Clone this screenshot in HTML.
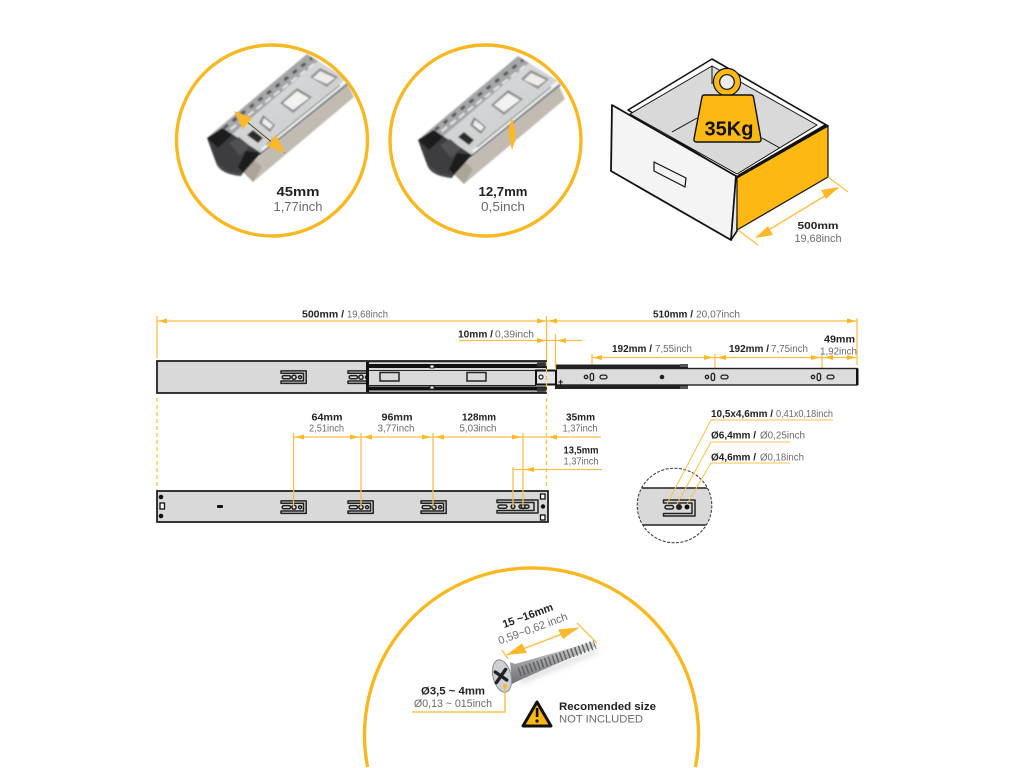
<!DOCTYPE html>
<html>
<head>
<meta charset="utf-8">
<style>
html,body{margin:0;padding:0;background:#fff;width:1024px;height:768px;overflow:hidden}
svg{display:block}
text{font-family:"Liberation Sans",sans-serif;font-size:10px;fill:#6a6a6a}
.b{font-weight:bold;fill:#222}
.d{stroke:#fac04a;stroke-width:1.3;fill:none}
.a{fill:#fbb829}
.r{fill:#d9d9d9;stroke:#222;stroke-width:1.8}
</style>
</head>
<body>
<svg width="1024" height="768" viewBox="0 0 1024 768" xmlns="http://www.w3.org/2000/svg">
<defs>
<clipPath id="c1"><circle cx="272" cy="140.5" r="95.5"/></clipPath>
<clipPath id="c2"><circle cx="485.5" cy="140.5" r="95.5"/></clipPath>
<clipPath id="c3"><circle cx="674.5" cy="505.5" r="37"/></clipPath>
<filter id="bl" x="-5%" y="-5%" width="110%" height="110%"><feGaussianBlur stdDeviation="0.7"/></filter>
<filter id="bt" x="-5%" y="-20%" width="110%" height="140%"><feGaussianBlur stdDeviation="0.35"/></filter>
<filter id="bs" x="-20%" y="-50%" width="140%" height="200%"><feGaussianBlur stdDeviation="3"/></filter>
<linearGradient id="sv" x1="0" y1="0" x2="1" y2="1">
<stop offset="0" stop-color="#b4b6b8"/><stop offset=".35" stop-color="#d6d7d8"/><stop offset=".75" stop-color="#cdcecf"/><stop offset="1" stop-color="#aeb0b2"/>
</linearGradient>
<linearGradient id="sc" x1="0" y1="0" x2="0" y2="1">
<stop offset="0" stop-color="#d8d9da"/><stop offset=".5" stop-color="#9b9da0"/><stop offset="1" stop-color="#6e7073"/>
</linearGradient>
<g id="rail">
<polygon points="243,172 260,155 347,82 354,97 253,182" fill="#c1bbb1"/>
<polygon points="243,172 254,160 262,167 253,182" fill="#aaa49a"/>
<polygon points="208,137 307,54 352,82 258,158" fill="url(#sv)"/>
<polygon points="208,137 307,54 318,61 221,144" fill="#a4a6a8"/>
<line x1="224" y1="128" x2="312" y2="58" stroke="#55575a" stroke-width="3" stroke-dasharray="5 6"/>
<line x1="222" y1="136" x2="315" y2="63" stroke="#e6e7e8" stroke-width="2" stroke-dasharray="7 4"/>
<polygon points="280,103 297,88 312,97 293,113" fill="#8c8e90"/>
<polygon points="283,103 297,91 309,98 293,110" fill="#f2f2f0"/>
<polygon points="263,115 275,125 270,132 259,123" fill="#85878a"/>
<polygon points="264,118 273,125 270,129 262,123" fill="#efeeec"/>
<polygon points="310,77 320,68 338,77 327,87" fill="#8f9193"/>
<polygon points="313,78 320,71 335,78 327,84" fill="#eeece9"/>
<polygon points="247,135 253,130 263,138 258,143" fill="#2a2a2b"/>
<line x1="262" y1="150" x2="347" y2="80" stroke="#f5f5f5" stroke-width="3"/>
<line x1="259" y1="155" x2="349" y2="83" stroke="#6a6c6e" stroke-width="1.6"/>
<line x1="266" y1="145" x2="340" y2="85" stroke="#85878a" stroke-width="1.2"/>
<path d="M215 158 Q216 174 241 176 L246 168 Z" fill="#4a4a4c"/>
<polygon points="207,138 223,128 261,153 243,173 228,171 215,160" fill="#3c3d3f"/>
<polygon points="207,138 222,128 232,135 218,148" fill="#1c1c1d"/>
<polygon points="246,151 261,153 243,173 238,167" fill="#1c1c1d"/>
<polygon points="229,143 239,137 250,146 240,156" fill="#505155"/>
</g>
<g id="br" fill="none" stroke="#222" stroke-width="1.5">
<path d="M1 .9 H26.2 V13.4 H1 V11 H23.5 V3.3 H1 Z" stroke-linejoin="round"/>
<rect x="2.2" y="5.6" width="8.4" height="3.2" rx="1.6"/>
<circle cx="14" cy="7.2" r="2.1"/>
<circle cx="20" cy="7.2" r="1.5"/>
</g>
<g id="hl" fill="none" stroke="#222" stroke-width="1.3">
<circle cx="0" cy="0" r="1.7"/>
<rect x="4.2" y="-3.6" width="3.4" height="7.2" rx="1.7"/>
<rect x="14" y="-1.9" width="7" height="3.8" rx="1.9"/>
</g>
</defs>

<!-- Circle 1 -->
<g clip-path="url(#c1)"><use href="#rail" filter="url(#bl)"/></g>
<circle cx="272" cy="140.5" r="95.5" fill="none" stroke="#f7b822" stroke-width="3.4"/>
<line x1="235" y1="112" x2="285" y2="153" stroke="#5a4a20" stroke-width="1"/>
<polygon points="234,111 252,118 243,129" class="a"/>
<polygon points="285,153 267,146 276,135" class="a"/>
<text x="298" y="196" class="b" style="font-size:12.5px" text-anchor="middle" textLength="43" lengthAdjust="spacingAndGlyphs">45mm</text>
<text x="298" y="211" style="font-size:13px" text-anchor="middle" textLength="49" lengthAdjust="spacingAndGlyphs">1,77inch</text>

<!-- Circle 2 -->
<g clip-path="url(#c2)"><use href="#rail" x="211" y="2" filter="url(#bl)"/></g>
<circle cx="485.5" cy="140.5" r="95.5" fill="none" stroke="#f7b822" stroke-width="3.4"/>
<polygon points="512,118 516,134 514,134 516,138 512,150 508,134 510,134 508,130" class="a"/>
<text x="503" y="196" class="b" style="font-size:12.5px" text-anchor="middle" textLength="49" lengthAdjust="spacingAndGlyphs">12,7mm</text>
<text x="503" y="211" style="font-size:13px" text-anchor="middle" textLength="44" lengthAdjust="spacingAndGlyphs">0,5inch</text>

<!-- Drawer -->
<g stroke="#111" stroke-width="1.6" stroke-linejoin="round">
<polygon points="628,110 712,59 828,126 737,178" fill="#fff"/>
<polygon points="630,114 712,66 817,125 737,174" fill="#d9d9d9" stroke-width="1"/>
<line x1="712" y1="66" x2="712" y2="84" stroke-width="1"/>
<line x1="672" y1="132" x2="697" y2="118" stroke-width="1"/>
<line x1="762" y1="138" x2="780" y2="148" stroke-width="1"/>
<polygon points="612,105 736,176 731,240 611,171" fill="#f4f4f4" stroke-width="1.8"/>
<polygon points="736,176 738,177 737,231 731,240" fill="#e8e8e8"/>
<polygon points="737,178 828,126 828,177 737,230" fill="#fdb813" stroke-width="1.2"/>
<line x1="738" y1="176" x2="826" y2="125" stroke-width="2.4"/>
<polygon points="654,162 686,178 685,187 654,171" fill="#f4f4f4" stroke-width="1.2"/>
</g>
<circle cx="727" cy="82" r="10.5" fill="none" stroke="#fdb813" stroke-width="6"/>
<circle cx="727" cy="82" r="13.6" fill="none" stroke="#111" stroke-width="1.2"/>
<circle cx="727" cy="82" r="7.3" fill="#ececec" stroke="#111" stroke-width="1.2"/>
<path d="M704 95 H751 Q753 95 753.5 97 L761 139 Q761.5 142 758 142 H697 Q693.5 142 694 139 L702 97 Q702.5 95 704 95Z" fill="#fdb813" stroke="#111" stroke-width="1.4"/>
<text x="729" y="135.5" class="b" style="font-size:20px;fill:#111" text-anchor="middle" textLength="49" lengthAdjust="spacingAndGlyphs">35Kg</text>
<g class="d">
<line x1="738" y1="230" x2="758" y2="245"/>
<line x1="828" y1="177" x2="848" y2="192"/>
<line x1="757" y1="237" x2="838" y2="188" stroke-width="1.5"/>
</g>
<polygon points="755,238 768,226 773,235" class="a"/>
<polygon points="839,187 826,199 821,190" class="a"/>
<text x="818" y="229" class="b" style="font-size:10.5px" text-anchor="middle" textLength="41" lengthAdjust="spacingAndGlyphs">500mm</text>
<text x="818" y="242" style="font-size:11px" text-anchor="middle" textLength="47" lengthAdjust="spacingAndGlyphs">19,68inch</text>

<!-- Top rail dims -->
<g class="d">
<line x1="157" y1="321" x2="857" y2="321"/>
<line x1="157" y1="316" x2="157" y2="358"/>
<line x1="157" y1="398" x2="157" y2="490" stroke-dasharray="4 3"/>
<line x1="546.5" y1="316" x2="546.5" y2="360"/>
<line x1="546.5" y1="398" x2="546.5" y2="488" stroke-dasharray="4 3"/>
<line x1="857" y1="318" x2="857" y2="365"/>
<line x1="459" y1="340.5" x2="582" y2="340.5"/>
<line x1="555.5" y1="334" x2="555.5" y2="366"/>
<line x1="592" y1="357.5" x2="856" y2="357.5"/>
<line x1="592" y1="354" x2="592" y2="372"/>
<line x1="715" y1="354" x2="715" y2="372"/>
<line x1="822" y1="354" x2="822" y2="372"/>
</g>
<g class="a">
<polygon points="158,321 167,318.5 167,323.5"/>
<polygon points="546,321 537,318.5 537,323.5"/>
<polygon points="548,321 557,318.5 557,323.5"/>
<polygon points="856,321 847,318.5 847,323.5"/>
<polygon points="546,340.5 537,338 537,343"/>
<polygon points="557,340.5 566,338 566,343"/>
<polygon points="593,357.5 602,355 602,360"/>
<polygon points="713,357.5 704,355 704,360"/>
<polygon points="717,357.5 726,355 726,360"/>
<polygon points="820,357.5 811,355 811,360"/>
<polygon points="824,357.5 833,355 833,360"/>
<polygon points="856,357.5 847,355 847,360"/>
</g>
<text x="302" y="317.5" class="b" textLength="42" lengthAdjust="spacingAndGlyphs">500mm /</text>
<text x="347" y="317.5" textLength="41" lengthAdjust="spacingAndGlyphs">19,68inch</text>
<text x="458" y="337.5" class="b" textLength="35" lengthAdjust="spacingAndGlyphs">10mm /</text>
<text x="495" y="337.5" textLength="39" lengthAdjust="spacingAndGlyphs">0,39inch</text>
<text x="653" y="317.5" class="b" textLength="40" lengthAdjust="spacingAndGlyphs">510mm /</text>
<text x="696" y="317.5" textLength="44" lengthAdjust="spacingAndGlyphs">20,07inch</text>
<text x="612" y="352" class="b" textLength="40" lengthAdjust="spacingAndGlyphs">192mm /</text>
<text x="655" y="352" textLength="37" lengthAdjust="spacingAndGlyphs">7,55inch</text>
<text x="729" y="352" class="b" textLength="40" lengthAdjust="spacingAndGlyphs">192mm /</text>
<text x="771" y="352" textLength="37" lengthAdjust="spacingAndGlyphs">7,75inch</text>
<text x="824" y="342.5" class="b" textLength="31" lengthAdjust="spacingAndGlyphs">49mm</text>
<text x="820" y="354.5" textLength="37" lengthAdjust="spacingAndGlyphs">1,92inch</text>

<!-- Top rail -->
<rect x="157" y="361" width="389" height="32" class="r"/>
<use href="#br" x="280" y="370"/>
<use href="#br" x="347" y="370"/>
<!-- inner slide -->
<rect x="555" y="364.5" width="133" height="24.5" fill="#222"/>
<rect x="556" y="368.5" width="301" height="16.5" fill="#dcdcdc" stroke="#222" stroke-width="1.4"/>
<rect x="856" y="368.5" width="2.5" height="16.5" fill="#111"/>
<rect x="680" y="364" width="8" height="3" fill="#555"/><rect x="680" y="386" width="8" height="3" fill="#555"/>
<use href="#hl" x="586" y="377"/>
<use href="#hl" x="707" y="377"/>
<use href="#hl" x="813" y="377"/>
<circle cx="662" cy="377" r="2.3" fill="#222"/>
<text x="558" y="385" class="b" style="font-size:9px;fill:#111">+</text>
<!-- middle section -->
<g>
<rect x="367" y="361.5" width="179" height="31" fill="#d9d9d9"/>
<path d="M367 361.5 H546 M367 392.5 H546" stroke="#222" stroke-width="1.4"/>
<path d="M367 366 H546 M367 388.5 H546" stroke="#111" stroke-width="4"/>
<path d="M367 370.5 H536 M367 385.5 H536" stroke="#222" stroke-width="1"/>
<rect x="366" y="362" width="3" height="30" fill="#111"/>
<rect x="380" y="372.5" width="19" height="8.5" fill="#d9d9d9" stroke="#222" stroke-width="1.5"/>
<rect x="467" y="372.5" width="19" height="8.5" fill="#d9d9d9" stroke="#222" stroke-width="1.5"/>
<rect x="430" y="365" width="4" height="3" fill="#fff" stroke="#222"/>
<rect x="430" y="386" width="4" height="3" fill="#fff" stroke="#222"/>
<rect x="536" y="370.5" width="20" height="14" fill="#e5e5e5" stroke="#111" stroke-width="2"/>
<circle cx="541" cy="377" r="2" fill="#fff" stroke="#222" stroke-width="1.2"/>
<rect x="537" y="362.5" width="9" height="4" fill="#333"/><rect x="537" y="387.5" width="9" height="4" fill="#333"/>
</g>
<g class="d"><line x1="546.5" y1="362" x2="546.5" y2="392" stroke-dasharray="4 3"/><line x1="555.5" y1="362" x2="555.5" y2="370"/></g>

<!-- Bottom rail -->
<rect x="157" y="491" width="391" height="31" class="r"/>
<circle cx="161" cy="497" r="2.3" fill="#111"/>
<circle cx="161" cy="516" r="2.3" fill="#111"/>
<rect x="160" y="503" width="4.5" height="6" fill="#fff" stroke="#111" stroke-width="1.3"/>
<rect x="217" y="505" width="6" height="3" rx="1" fill="#111"/>
<use href="#br" x="280" y="500"/>
<use href="#br" x="347" y="500"/>
<use href="#br" x="420" y="500"/>
<g fill="none" stroke="#222" stroke-width="1.5">
<path d="M497 500 H538 V513 H497 V510.5 H534 V502.5 H497 Z" stroke-linejoin="round"/>
<rect x="498" y="505" width="9" height="3.2" rx="1.6"/>
<rect x="519" y="505" width="10" height="3.2" rx="1.6"/>
<circle cx="513" cy="506.6" r="1.9"/>
<circle cx="523" cy="506.6" r="1.9"/>
</g>
<rect x="540.5" y="494" width="4.5" height="5" fill="#fff" stroke="#111" stroke-width="1.3"/>
<rect x="540.5" y="515" width="4.5" height="5" fill="#fff" stroke="#111" stroke-width="1.3"/>
<circle cx="543" cy="506.5" r="2.2" fill="#111"/>

<!-- Bottom rail dims -->
<g class="d">
<line x1="293.5" y1="433" x2="293.5" y2="507"/>
<line x1="361" y1="433" x2="361" y2="507"/>
<line x1="433" y1="433" x2="433" y2="507"/>
<line x1="523" y1="433" x2="523" y2="507"/>
<line x1="513" y1="467" x2="513" y2="507"/>
<line x1="293.5" y1="437" x2="601" y2="437"/>
<line x1="513" y1="469.5" x2="602" y2="469.5"/>
</g>
<g class="a">
<polygon points="295,437 304,434.5 304,439.5"/>
<polygon points="359,437 350,434.5 350,439.5"/>
<polygon points="363,437 372,434.5 372,439.5"/>
<polygon points="431,437 422,434.5 422,439.5"/>
<polygon points="435,437 444,434.5 444,439.5"/>
<polygon points="521,437 512,434.5 512,439.5"/>
<polygon points="548,437 557,434.5 557,439.5"/>
<polygon points="525,469.5 534,467 534,472"/>
</g>
<g text-anchor="middle">
<text x="327" y="420.5" class="b" textLength="31" lengthAdjust="spacingAndGlyphs">64mm</text>
<text x="326.5" y="431.5" textLength="35" lengthAdjust="spacingAndGlyphs">2,51inch</text>
<text x="397" y="420.5" class="b" textLength="31" lengthAdjust="spacingAndGlyphs">96mm</text>
<text x="396" y="431.5" textLength="37" lengthAdjust="spacingAndGlyphs">3,77inch</text>
<text x="479" y="420.5" class="b" textLength="34" lengthAdjust="spacingAndGlyphs">128mm</text>
<text x="478" y="431.5" textLength="37" lengthAdjust="spacingAndGlyphs">5,03inch</text>
<text x="580.5" y="420.5" class="b" textLength="29" lengthAdjust="spacingAndGlyphs">35mm</text>
<text x="580" y="431.5" textLength="35" lengthAdjust="spacingAndGlyphs">1,37inch</text>
<text x="581" y="453.5" class="b" textLength="35" lengthAdjust="spacingAndGlyphs">13,5mm</text>
<text x="581" y="464.5" textLength="35" lengthAdjust="spacingAndGlyphs">1,37inch</text>
</g>

<!-- Detail circle -->
<g clip-path="url(#c3)">
<rect x="636" y="488" width="78" height="37" fill="#d9d9d9"/>
<line x1="636" y1="488" x2="714" y2="488" stroke="#222" stroke-width="1.5"/>
<line x1="636" y1="525" x2="714" y2="525" stroke="#222" stroke-width="1.5"/>
</g>
<circle cx="674.5" cy="505.5" r="37.3" fill="none" stroke="#333" stroke-width="1" stroke-dasharray="3 1.5"/>
<g fill="none" stroke="#222" stroke-width="1.5">
<path d="M663.5 500 H695 V516 H663.5 V513.5 H692 V503 H663.5 Z" stroke-linejoin="round"/>
<rect x="665" y="505.5" width="8.5" height="3.5" rx="1.7"/>
</g>
<circle cx="679" cy="507" r="3" fill="#222"/>
<circle cx="687" cy="507" r="2.5" fill="#111"/>
<g class="d" style="stroke-width:1">
<polyline points="667,504 711,420 833,420"/>
<polyline points="677,504 711,442 790,442"/>
<polyline points="687,504 711,463 790,463"/>
</g>
<text x="711" y="417" class="b" textLength="62" lengthAdjust="spacingAndGlyphs">10,5x4,6mm /</text>
<text x="776" y="417" textLength="57" lengthAdjust="spacingAndGlyphs">0,41x0,18inch</text>
<text x="711" y="438.5" class="b" textLength="45" lengthAdjust="spacingAndGlyphs">Ø6,4mm /</text>
<text x="760" y="438.5" textLength="45" lengthAdjust="spacingAndGlyphs">Ø0,25inch</text>
<text x="711" y="460.5" class="b" textLength="45" lengthAdjust="spacingAndGlyphs">Ø4,6mm /</text>
<text x="760" y="460.5" textLength="44" lengthAdjust="spacingAndGlyphs">Ø0,18inch</text>

<!-- Large circle -->
<path d="M367.6 767 A167 167 0 1 1 695.4 767" fill="none" stroke="#f7b822" stroke-width="3.4"/>
<!-- Screw -->
<polygon points="520,684 600,652 595,650 520,678" fill="#bbb" opacity=".55" filter="url(#bs)"/>
<polygon points="510,662 515,664 592,642 597,646 520,680 512,684" fill="url(#sc)" filter="url(#bt)"/>
<line x1="519" y1="672" x2="595" y2="644.5" stroke="#5f6164" stroke-width="9" stroke-dasharray="1.5 2.5" filter="url(#bt)"/>
<ellipse cx="502" cy="676" rx="9" ry="16.5" transform="rotate(-14 502 676)" fill="#cfd0d1" stroke="#8a8c8e" stroke-width="1"/>
<g transform="rotate(35 501 676)" stroke="#222" stroke-width="3.4" stroke-linecap="round"><line x1="501" y1="668" x2="501" y2="684"/><line x1="494" y1="676" x2="508" y2="676"/></g>
<g class="d">
<line x1="502" y1="650" x2="508" y2="659"/>
<line x1="577" y1="623" x2="597" y2="643"/>
<line x1="507" y1="655" x2="578" y2="628" stroke-width="1.5"/>
<polyline points="505,687 505,712 412,712" style="stroke:#f9b92a"/>
</g>
<polygon points="506,655 522,643.5 527,653" class="a"/>
<polygon points="579,627.5 563,639 558,629.5" class="a"/>
<circle cx="505" cy="686" r="2" class="a"/>
<text x="529" y="619" class="b" transform="rotate(-20 529 619)" style="font-size:11px" text-anchor="middle" textLength="53" lengthAdjust="spacingAndGlyphs">15 ~16mm</text>
<text x="534" y="632" transform="rotate(-20 534 632)" style="font-size:11px" text-anchor="middle" textLength="73" lengthAdjust="spacingAndGlyphs">0,59~0,62 inch</text>
<text x="453" y="694.5" class="b" style="font-size:11px" text-anchor="middle" textLength="64" lengthAdjust="spacingAndGlyphs">Ø3,5 ~ 4mm</text>
<text x="453" y="707" style="font-size:11px" text-anchor="middle" textLength="78" lengthAdjust="spacingAndGlyphs">Ø0,13 ~ 015inch</text>
<polygon points="537,702 523,726 551,726" fill="#fdb813" stroke="#111" stroke-width="3" stroke-linejoin="round"/>
<rect x="535.8" y="708" width="2.6" height="9" fill="#111"/>
<circle cx="537" cy="721" r="1.6" fill="#111"/>
<text x="559" y="710" class="b" style="font-size:11px" textLength="97" lengthAdjust="spacingAndGlyphs">Recomended size</text>
<text x="559" y="722.5" style="font-size:11px" textLength="84" lengthAdjust="spacingAndGlyphs">NOT INCLUDED</text>
</svg>
</body>
</html>
